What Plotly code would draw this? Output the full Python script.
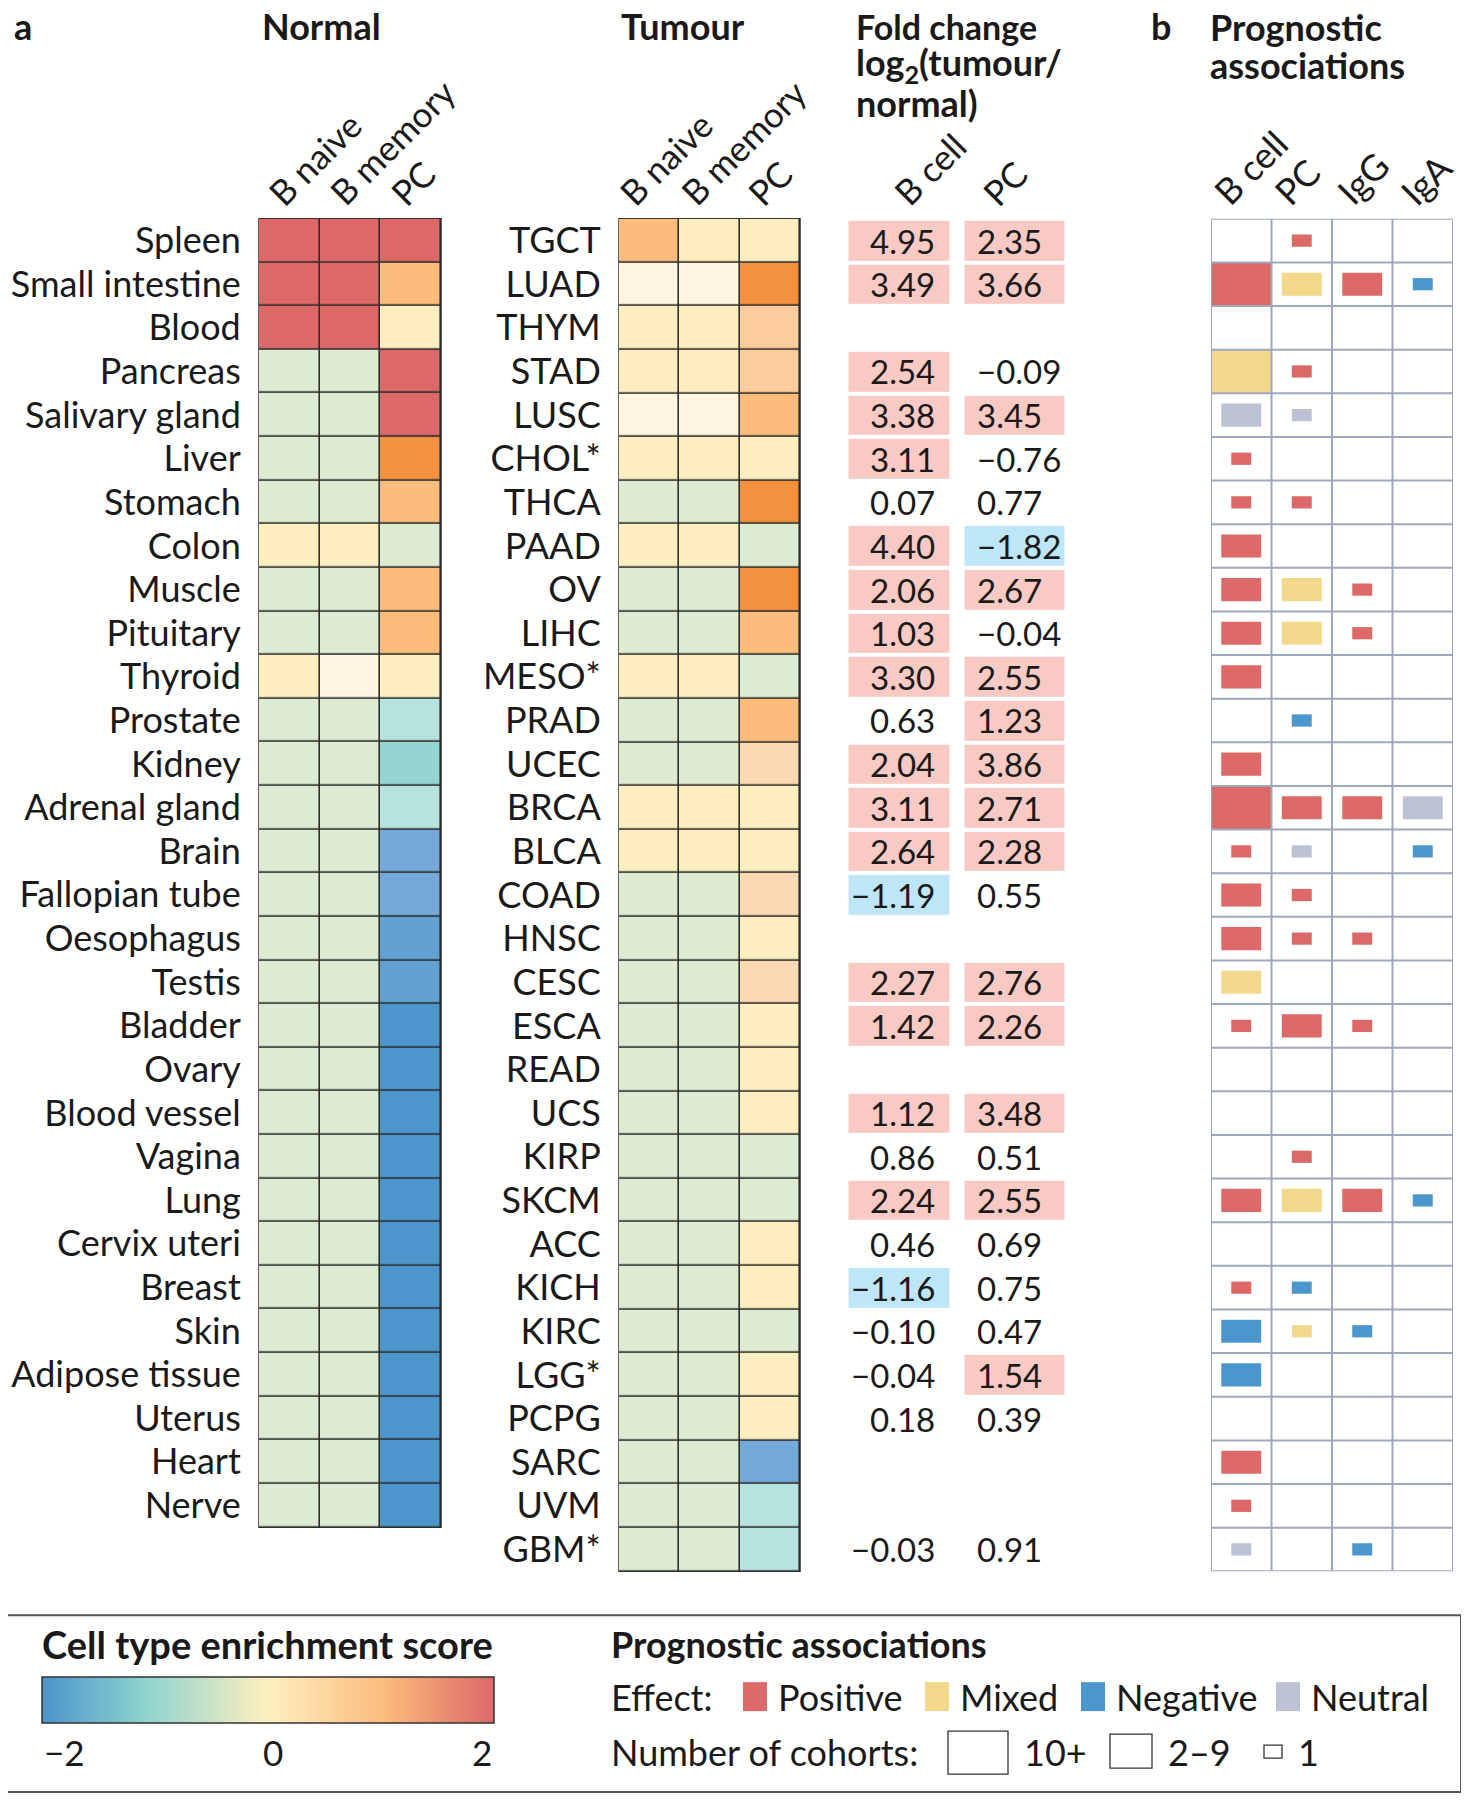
import plotly.graph_objects as go

W, H = 1469, 1800
OFF = 8  # page margin around the plot div
FONT = "Lato"
INK = "#1a1a1a"

# ---- data -------------------------------------------------------------
normal_cols = ["B naive", "B memory", "PC"]
normal_tissues = ["Spleen", "Small intestine", "Blood", "Pancreas", "Salivary gland",
                  "Liver", "Stomach", "Colon", "Muscle", "Pituitary", "Thyroid",
                  "Prostate", "Kidney", "Adrenal gland", "Brain", "Fallopian tube",
                  "Oesophagus", "Testis", "Bladder", "Ovary", "Blood vessel", "Vagina",
                  "Lung", "Cervix uteri", "Breast", "Skin", "Adipose tissue", "Uterus",
                  "Heart", "Nerve"]
# enrichment scores
normal_b_naive = [2, 2, 2, -0.4, -0.4, -0.4, -0.4, 0, -0.4, -0.4, 0,
                  -0.4, -0.4, -0.4, -0.4, -0.4, -0.4, -0.4, -0.4, -0.4, -0.4, -0.4,
                  -0.4, -0.4, -0.4, -0.4, -0.4, -0.4, -0.4, -0.4]
normal_b_memory = [2, 2, 2, -0.4, -0.4, -0.4, -0.4, 0, -0.4, -0.4, 0.2,
                   -0.4, -0.4, -0.4, -0.4, -0.4, -0.4, -0.4, -0.4, -0.4, -0.4, -0.4,
                   -0.4, -0.4, -0.4, -0.4, -0.4, -0.4, -0.4, -0.4]
normal_pc = [2, 1, 0, 2, 2, 1.5, 1, -0.4, 1, 1, 0, -0.7, -1, -0.7, -1.4, -1.4,
             -1.6, -1.6, -2, -2, -2, -2, -2, -2, -2, -2, -2, -2, -2, -2]

tumour_types = ["TGCT", "LUAD", "THYM", "STAD", "LUSC", "CHOL*", "THCA", "PAAD", "OV",
                "LIHC", "MESO*", "PRAD", "UCEC", "BRCA", "BLCA", "COAD", "HNSC", "CESC",
                "ESCA", "READ", "UCS", "KIRP", "SKCM", "ACC", "KICH", "KIRC", "LGG*",
                "PCPG", "SARC", "UVM", "GBM*"]
tumour_b_naive = [1, 0.2, 0, 0, 0.2, 0, -0.4, 0, -0.4, -0.4, 0, -0.4, -0.4, 0, 0,
                  -0.4, -0.4, -0.4, -0.4, -0.4, -0.4, -0.4, -0.4, -0.4, -0.4, -0.4,
                  -0.4, -0.4, -0.4, -0.4, -0.4]
tumour_b_memory = [0, 0.2, 0, 0, 0.2, 0, -0.4, 0, -0.4, -0.4, 0, -0.4, -0.4, 0, 0,
                   -0.4, -0.4, -0.4, -0.4, -0.4, -0.4, -0.4, -0.4, -0.4, -0.4, -0.4,
                   -0.4, -0.4, -0.4, -0.4, -0.4]
tumour_pc = [0, 1.5, 0.7, 0.7, 1, 0, 1.5, -0.4, 1.5, 1, -0.4, 1, 0.5, 0, 0,
             0.5, 0, 0.5, 0, 0, 0, -0.4, -0.4, 0, 0, -0.4, 0, 0, -1.4, -0.7, -0.7]

fc_cols = ["B cell", "PC"]
fc_bcell = [4.95, 3.49, None, 2.54, 3.38, 3.11, 0.07, 4.40, 2.06, 1.03, 3.30, 0.63,
            2.04, 3.11, 2.64, -1.19, None, 2.27, 1.42, None, 1.12, 0.86, 2.24, 0.46,
            -1.16, -0.10, -0.04, 0.18, None, None, -0.03]
fc_pc = [2.35, 3.66, None, -0.09, 3.45, -0.76, 0.77, -1.82, 2.67, -0.04, 2.55, 1.23,
         3.86, 2.71, 2.28, 0.55, None, 2.76, 2.26, None, 3.48, 0.51, 2.55, 0.69,
         0.75, 0.47, 1.54, 0.39, None, None, 0.91]

prog_cols = ["B cell", "PC", "IgG", "IgA"]
# "effect cohorts" per tumour type, None = no association
prog_bcell = [None, "pos 10+", None, "mixed 10+", "neutral 2-9", "pos 1", "pos 1",
              "pos 2-9", "pos 2-9", "pos 2-9", "pos 2-9", None, "pos 2-9", "pos 10+",
              "pos 1", "pos 2-9", "pos 2-9", "mixed 2-9", "pos 1", None, None, None,
              "pos 2-9", None, "pos 1", "neg 2-9", "neg 2-9", None, "pos 2-9",
              "pos 1", "neutral 1"]
prog_pc = ["pos 1", "mixed 2-9", None, "pos 1", "neutral 1", None, "pos 1", None,
           "mixed 2-9", "mixed 2-9", None, "neg 1", None, "pos 2-9", "neutral 1",
           "pos 1", "pos 1", None, "pos 2-9", None, None, "pos 1", "mixed 2-9", None,
           "neg 1", "mixed 1", None, None, None, None, None]
prog_igg = [None, "pos 2-9", None, None, None, None, None, None, "pos 1", "pos 1",
            None, None, None, "pos 2-9", None, None, "pos 1", None, "pos 1", None,
            None, None, "pos 2-9", None, None, "neg 1", None, None, None, None, "neg 1"]
prog_iga = [None, "neg 1", None, None, None, None, None, None, None, None, None, None,
            None, "neutral 2-9", "neg 1", None, None, None, None, None, None, None,
            "neg 1", None, None, None, None, None, None, None, None]

effect_names = ["Positive", "Mixed", "Negative", "Neutral"]
cohort_names = ["10+", "2–9", "1"]
score_ticks = ["\u22122", "0", "2"]

# ---- styles -----------------------------------------------------------
cell_scale = [[0.0, "#4d96cc"], [0.1, "#60a0d2"], [0.15, "#74a9d8"], [0.25, "#95d4d4"],
              [0.325, "#b6e2df"], [0.4, "#dcebd2"], [0.5, "#feeebf"], [0.55, "#fff5e1"],
              [0.625, "#fdd9b1"], [0.675, "#fccc9b"], [0.75, "#fbbc7c"],
              [0.875, "#f4913f"], [1.0, "#dc6868"]]
bar_scale = [[0.0, "#4a93cb"], [0.22, "#8bd2cf"], [0.5, "#fef0c0"], [0.76, "#fbbb7b"],
             [1.0, "#dc6868"]]
effect_color = {"pos": "#dc6868", "mixed": "#f3d78b", "neg": "#4b96cc", "neutral": "#bcc2d3"}
cohort_size = {"10+": (1.0, 1.0), "2-9": (0.66, 0.53), "1": (0.33, 0.28)}


def px(x):
    return (x - OFF) / W


def py(y):
    return 1 - (y - OFF) / H


def font(size, color=INK):
    return dict(family=FONT, size=size, color=color)


fig = go.Figure()
annotations = []
shapes = []

# panel frames in page pixels (left, right, top, bottom)
normal_box = (259, 441, 217, 1527)
tumour_box = (619, 800, 217, 1571)
fc_box = (841.5, 1072.5, 217, 1571)
prog_box = (1211, 1453, 217, 1571)
cbar_box = (42, 494, 1677, 1723)

# ---- normal / tumour heatmaps ------------------------------------------
normal_z = [list(r) for r in zip(normal_b_naive, normal_b_memory, normal_pc)]
tumour_z = [list(r) for r in zip(tumour_b_naive, tumour_b_memory, tumour_pc)]

fig.add_trace(go.Heatmap(z=normal_z, x=normal_cols, y=normal_tissues, zmin=-2, zmax=2,
                         colorscale=cell_scale, showscale=False, xgap=1.6, ygap=1.6,
                         hoverinfo="skip", xaxis="x", yaxis="y"))
fig.add_trace(go.Heatmap(z=tumour_z, x=normal_cols, y=tumour_types, zmin=-2, zmax=2,
                         colorscale=cell_scale, showscale=False, xgap=1.6, ygap=1.6,
                         hoverinfo="skip", xaxis="x2", yaxis="y2"))

# colour bar for the legend (invisible carrier point)
fig.add_trace(go.Scatter(
    x=[normal_cols[0]], y=[normal_tissues[0]], mode="markers", hoverinfo="skip",
    xaxis="x", yaxis="y",
    marker=dict(color=[0], cmin=-2, cmax=2, colorscale=bar_scale, opacity=0, size=1,
                showscale=True,
                colorbar=dict(orientation="h", x=px(cbar_box[0]), xanchor="left",
                              y=py(cbar_box[2]), yanchor="top",
                              len=cbar_box[1] - cbar_box[0], lenmode="pixels",
                              thickness=cbar_box[3] - cbar_box[2], thicknessmode="pixels",
                              xpad=0, ypad=0, outlinewidth=1.5, outlinecolor="#333",
                              showticklabels=False, ticks=""))))

for ax in ["", "2"]:
    shapes.append(dict(type="rect", xref=f"x{ax} domain", yref=f"y{ax} domain",
                       x0=0, x1=1, y0=0, y1=1, layer="below",
                       fillcolor="#2e2e2e", line=dict(color="#2e2e2e", width=1.5)))

# ---- fold change ------------------------------------------------------
def sig(v):
    if v is None:
        return None
    return 1 if v > 1 else (-1 if v < -1 else None)


fc_z = [[sig(b), sig(p)] for b, p in zip(fc_bcell, fc_pc)]
fig.add_trace(go.Heatmap(z=fc_z, x=[0, 1], y=tumour_types, zmin=-1, zmax=1,
                         colorscale=[[0, "#bde6f8"], [0.5, "#ffffff"], [1, "#f9c9c4"]],
                         showscale=False, xgap=15, ygap=4, hoverinfo="skip",
                         xaxis="x3", yaxis="y3"))
for name, b, p in zip(tumour_types, fc_bcell, fc_pc):
    if b is not None:
        annotations.append(dict(text=f"{b:.2f}".replace("-", "\u2212"), x=0.33, y=name,
                                xref="x3", yref="y3", xanchor="right", showarrow=False,
                                font=font(33)))
    if p is not None:
        annotations.append(dict(text=f"{p:.2f}".replace("-", "\u2212"), x=0.66, y=name,
                                xref="x3", yref="y3", xanchor="left", showarrow=False,
                                font=font(33)))

# ---- prognostic associations -------------------------------------------
bx, bbase, bh, bw, bc = [], [], [], [], []
for ci, col in enumerate([prog_bcell, prog_pc, prog_igg, prog_iga]):
    for ri, code in enumerate(col):
        if code is None:
            continue
        eff, coh = code.split()
        w, h = cohort_size[coh]
        bx.append(ci)
        bbase.append(ri - h / 2)
        bh.append(h)
        bw.append(w)
        bc.append(effect_color[eff])
fig.add_trace(go.Bar(x=bx, y=bh, base=bbase, width=bw, marker=dict(color=bc, line=dict(width=0)),
                     hoverinfo="skip", xaxis="x4", yaxis="y4"))
for i in range(len(prog_cols) + 1):
    shapes.append(dict(type="line", xref="x4", yref="y4", x0=i - 0.5, x1=i - 0.5,
                       y0=-0.5, y1=len(tumour_types) - 0.5, layer="above",
                       line=dict(color="#9fa7bf", width=2)))
for j in range(len(tumour_types) + 1):
    shapes.append(dict(type="line", xref="x4", yref="y4", x0=-0.5, x1=len(prog_cols) - 0.5,
                       y0=j - 0.5, y1=j - 0.5, layer="above",
                       line=dict(color="#9fa7bf", width=2)))

# ---- axes --------------------------------------------------------------
def dom(box):
    l, r, t, b = box
    return [px(l), px(r)], [py(b), py(t)]


hidden = dict(showgrid=False, zeroline=False, showticklabels=False, ticks="", showline=False)
nx, ny = dom(normal_box)
tx, ty = dom(tumour_box)
fx, fy = dom(fc_box)
gx, gy = dom(prog_box)
row_ticks = dict(showgrid=False, zeroline=False, showline=False, ticks="outside",
                 ticklen=10, tickcolor="rgba(0,0,0,0)", tickfont=font(36))
fig.update_layout(
    xaxis=dict(domain=nx, range=[-0.5, 2.5], anchor="y", **hidden),
    yaxis=dict(domain=ny, range=[len(normal_tissues) - 0.5, -0.5], anchor="x",
               tickmode="array", tickvals=normal_tissues, ticktext=normal_tissues,
               **row_ticks),
    xaxis2=dict(domain=tx, range=[-0.5, 2.5], anchor="y2", **hidden),
    yaxis2=dict(domain=ty, range=[len(tumour_types) - 0.5, -0.5], anchor="x2",
                tickmode="array", tickvals=tumour_types, ticktext=tumour_types,
                **row_ticks),
    xaxis3=dict(domain=fx, range=[-0.5, 1.5], anchor="y3", **hidden),
    yaxis3=dict(domain=fy, range=[len(tumour_types) - 0.5, -0.5], anchor="x3", **hidden),
    xaxis4=dict(domain=gx, range=[-0.5, 3.5], anchor="y4", **hidden),
    yaxis4=dict(domain=gy, range=[len(tumour_types) - 0.5, -0.5], anchor="x4", **hidden),
)

# ---- column headers (rotated) ---------------------------------------------
def col_labels(labels, left, right, offsets, size=35):
    w = (right - left) / len(labels)
    for i, lab in enumerate(labels):
        cx = left + (i + 0.5) * w
        annotations.append(dict(text=lab, x=px(cx + offsets[i] - 17), y=py(214),
                                xref="paper", yref="paper", xanchor="left",
                                yanchor="bottom", textangle=-45, showarrow=False,
                                font=font(size)))


col_labels(normal_cols, 259, 441, [-15, -15, -15])
col_labels(normal_cols, 619, 800, [-24, -23, -17])
col_labels(fc_cols, 849, 1065, [-4, -23])
col_labels(prog_cols, 1211, 1453, [-22, -22, -20, -17], 36)


def text(t, x, y, size=36, xanchor="left", bold=False):
    annotations.append(dict(text=f"<b>{t}</b>" if bold else t, x=px(x), y=py(y),
                            xref="paper", yref="paper", xanchor=xanchor,
                            yanchor="middle", showarrow=False, font=font(size)))


text("a", 12, 24, 36, bold=True)
text("Normal", 321, 24, 36, "center", bold=True)
text("Tumour", 683, 24, 36, "center", bold=True)
text("Fold change", 854, 25, 34, bold=True)
text("log<sub>2</sub>(tumour/", 854, 63, 36, bold=True)
text("normal)", 854, 101, 36, bold=True)
text("b", 1149, 24, 36, bold=True)
text("Prognostic", 1208, 25, 36, bold=True)
text("associations", 1208, 63, 36, bold=True)

# ---- legend --------------------------------------------------------------
def rect(x0, y0, x1, y1, fill, line="rgba(0,0,0,0)", lw=0):
    shapes.append(dict(type="rect", xref="paper", yref="paper", x0=px(x0), x1=px(x1),
                       y0=py(y0), y1=py(y1), fillcolor=fill, layer="above",
                       line=dict(color=line, width=lw)))


rect(6, 1615, 1461, 1792, "rgba(0,0,0,0)", "#555", 2)
text("Cell type enrichment score", 40, 1644, 38, bold=True)
cb_l, cb_r = cbar_box[0], cbar_box[1]
for lab, x, anchor in zip(score_ticks, [cb_l, (cb_l + cb_r) / 2 + 5, cb_r], ["left", "center", "right"]):
    text(lab, x, 1752, 35, anchor)
text("Prognostic associations", 609, 1644, 36, bold=True)
text("Effect:", 609, 1697, 36)
swatch_x = [743, 925, 1081, 1276]
for name, key, sx in zip(effect_names, ["pos", "mixed", "neg", "neutral"], swatch_x):
    rect(sx, 1682, sx + 24, 1711, effect_color[key])
    text(name, sx + 33, 1697, 36)
text("Number of cohorts:", 609, 1752, 36)
cohort_boxes = [(948, 1731, 1008, 1774), (1110, 1734, 1152, 1768), (1264, 1745, 1282, 1758)]
for name, (x0, y0, x1, y1) in zip(cohort_names, cohort_boxes):
    rect(x0, y0, x1, y1, "white", "#333", 1.3)
    text(name, x1 + 14, 1752, 36)

fig.update_layout(width=W, height=H, margin=dict(l=0, r=0, t=0, b=0),
                  paper_bgcolor="white", plot_bgcolor="white", showlegend=False,
                  barmode="overlay", annotations=annotations, shapes=shapes,
                  font=font(33))

fig.write_html("out.html")
